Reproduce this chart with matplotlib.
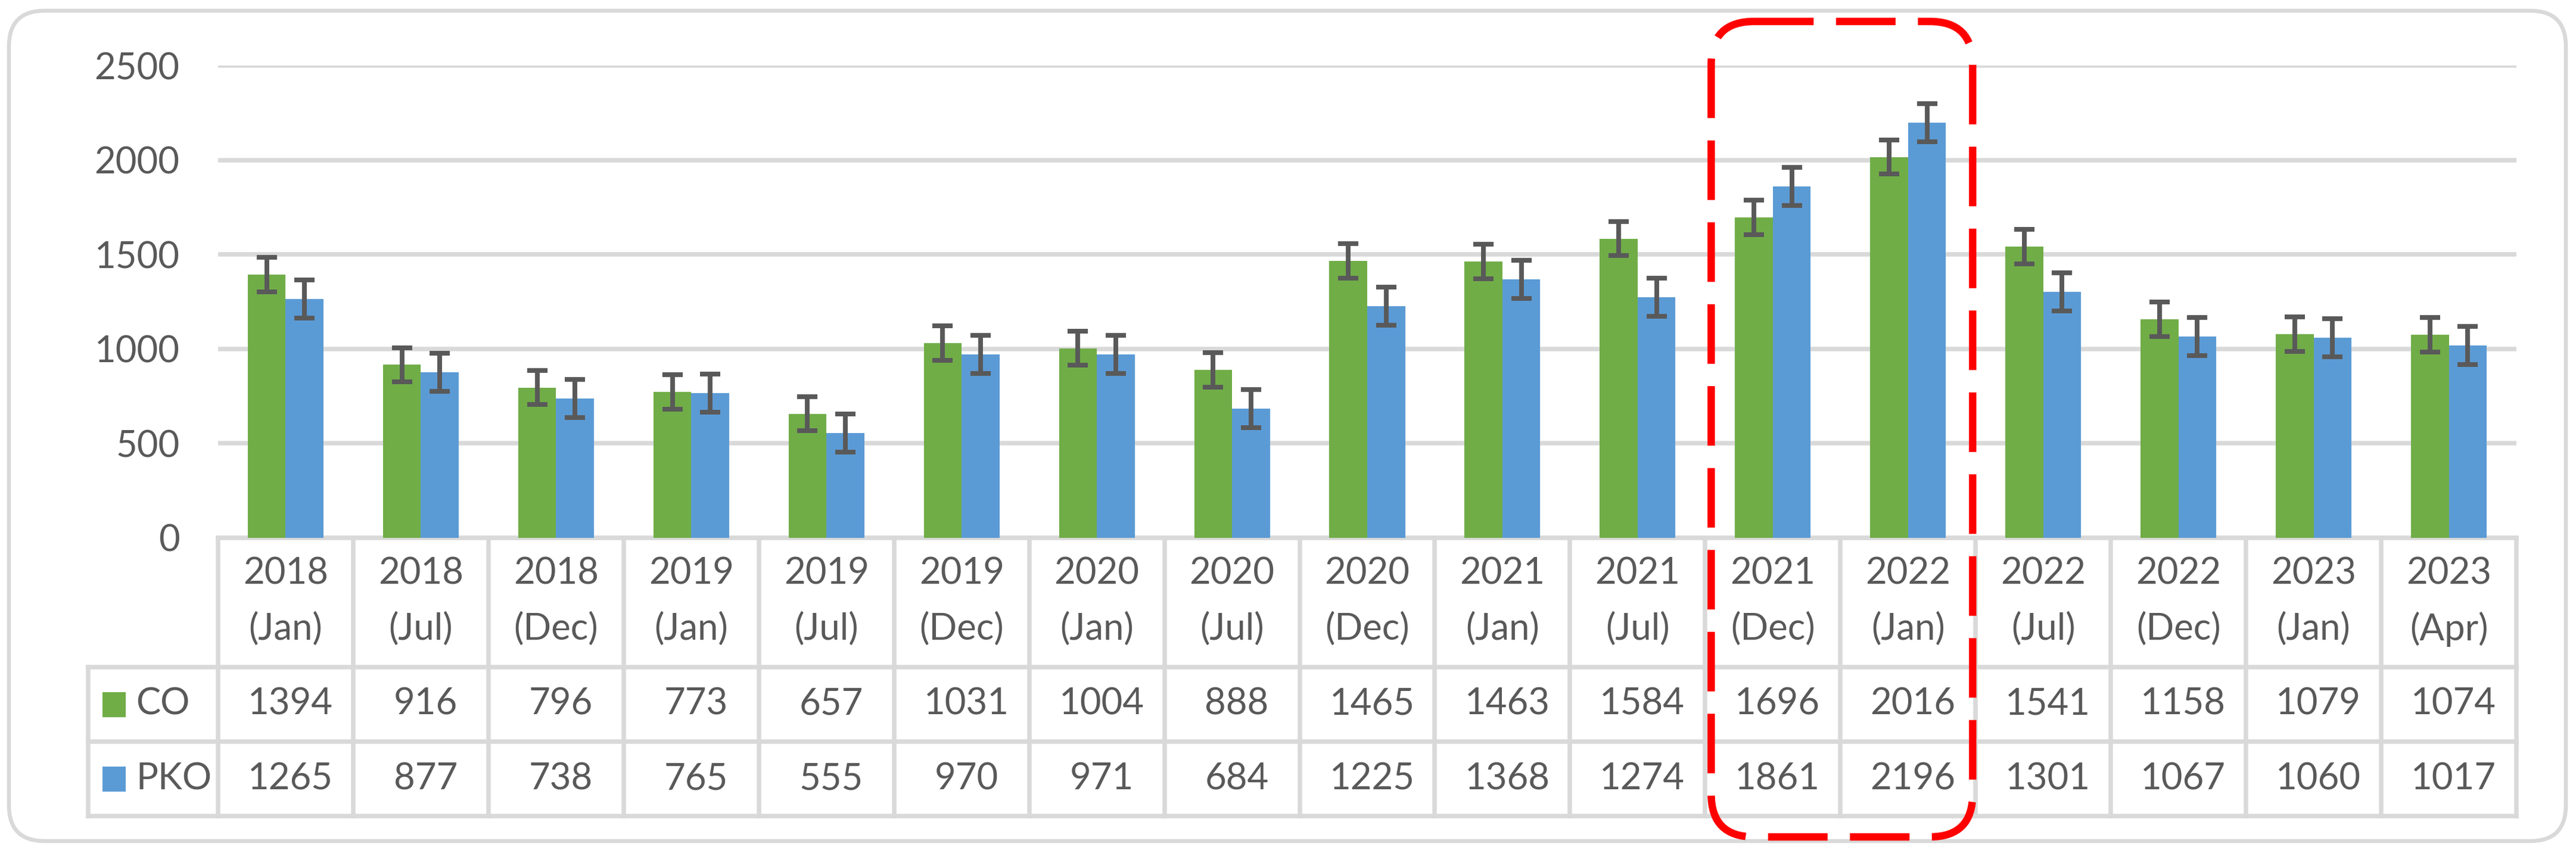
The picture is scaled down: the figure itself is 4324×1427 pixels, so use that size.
import matplotlib
matplotlib.use('Agg')
import matplotlib.pyplot as plt
from matplotlib.patches import FancyBboxPatch, Rectangle

# data
periods = ['2018 (Jan)', '2018 (Jul)', '2018 (Dec)', '2019 (Jan)', '2019 (Jul)', '2019 (Dec)',
           '2020 (Jan)', '2020 (Jul)', '2020 (Dec)', '2021 (Jan)', '2021 (Jul)', '2021 (Dec)',
           '2022 (Jan)', '2022 (Jul)', '2022 (Dec)', '2023 (Jan)', '2023 (Apr)']
co = [1394, 916, 796, 773, 657, 1031, 1004, 888, 1465, 1463, 1584, 1696, 2016, 1541, 1158, 1079, 1074]
pko = [1265, 877, 738, 765, 555, 970, 971, 684, 1225, 1368, 1274, 1861, 2196, 1301, 1067, 1060, 1017]
co_err = 91
pko_err = 101
series_names = ['CO', 'PKO']
highlight = ['2021 (Dec)', '2022 (Jan)']
yticks = [0, 500, 1000, 1500, 2000, 2500]

W, H = 4324, 1427
DPI = 300
GREEN = '#70AD47'
BLUE = '#5B9BD5'
GRID = '#D9D9D9'
TXT = '#595959'
FS = 14.8

plt.rcParams['font.family'] = ['Lato', 'DejaVu Sans']

fig = plt.figure(figsize=(W / DPI, H / DPI), dpi=DPI)
fig.patch.set_facecolor('white')

# background axes in pixel units (y down) for frame and table
bg = fig.add_axes([0, 0, 1, 1], zorder=0)
bg.set_xlim(0, W)
bg.set_ylim(H, 0)
bg.axis('off')

frame = FancyBboxPatch((15, 18), 4292, 1394, boxstyle='round,pad=0,rounding_size=60',
                       fc='white', ec=GRID, lw=1.6, zorder=0)
bg.add_patch(frame)

# bar axes
ax = fig.add_axes([366 / W, 1 - 903 / H, (4224 - 366) / W, (903 - 110) / H], zorder=1)
ax.patch.set_alpha(0)
n = len(periods)
xs = list(range(n))
bw = 0.28
ekw = dict(ecolor='#595959', elinewidth=1.9, capsize=4.1, capthick=1.9, zorder=4)
ax.bar([i - bw / 2 for i in xs], co, bw, color=GREEN, yerr=co_err, error_kw=ekw, zorder=3)
ax.bar([i + bw / 2 for i in xs], pko, bw, color=BLUE, yerr=pko_err, error_kw=ekw, zorder=3)
ax.set_xlim(-0.5, n - 0.5)
ax.set_ylim(0, 2500)
ax.set_yticks(yticks)
ax.set_xticks([])
ax.yaxis.grid(True, color=GRID, lw=1.8)
ax.set_axisbelow(True)
for s in ax.spines.values():
    s.set_visible(False)
ax.tick_params(axis='y', length=0, pad=15.5, labelsize=FS, labelcolor=TXT)


def px(xv):
    return ax.transData.transform((xv, 0))[0]


top = H - ax.transData.transform((0, 0))[1]
head_bot = top + 217
co_bot = head_bot + 125
pko_bot = co_bot + 125
leg_left = 148
edges = [px(i - 0.5) for i in range(n + 1)]

lkw = dict(color=GRID, lw=1.8, solid_capstyle='projecting', zorder=1)
bg.plot([edges[0], edges[-1]], [top, top], **lkw)
for yy in [head_bot, co_bot, pko_bot]:
    bg.plot([leg_left, edges[-1]], [yy, yy], **lkw)
for e in edges:
    bg.plot([e, e], [top, pko_bot], **lkw)
bg.plot([leg_left, leg_left], [head_bot, pko_bot], **lkw)

# header and values
for i, lab in enumerate(periods):
    year, month = lab.split(' ')
    cx = px(i)
    bg.text(cx, top + 60, year, ha='center', va='center', fontsize=FS, color=TXT)
    bg.text(cx, top + 153, month, ha='center', va='center', fontsize=FS, color=TXT)
    bg.text(cx + 8, (head_bot + co_bot) / 2, str(co[i]), ha='center', va='center',
            fontsize=FS, color=TXT)
    bg.text(cx + 8, (co_bot + pko_bot) / 2, str(pko[i]), ha='center', va='center',
            fontsize=FS, color=TXT)

# legend keys in the table
for name, col, y0, y1 in [(series_names[0], GREEN, head_bot, co_bot),
                          (series_names[1], BLUE, co_bot, pko_bot)]:
    cy = (y0 + y1) / 2
    bg.add_patch(Rectangle((172, cy - 21), 39, 42, fc=col, ec='none', zorder=2))
    bg.text(228, cy, name, ha='left', va='center', fontsize=FS, color=TXT)

# dashed highlight box, drawn in an overlay so it sits above the bars
over = fig.add_axes([0, 0, 1, 1], zorder=2)
over.set_xlim(0, W)
over.set_ylim(H, 0)
over.axis('off')
i0 = periods.index(highlight[0])
i1 = periods.index(highlight[-1])
bx0 = px(i0 - 0.5) + 10
bx1 = px(i1 + 0.5) - 5
box = FancyBboxPatch((bx0, 36), bx1 - bx0, 1405 - 36,
                     boxstyle='round,pad=0,rounding_size=72',
                     fc='none', ec='#FF0000', lw=3.0, linestyle=(0, (8, 3)), zorder=5)
over.add_patch(box)

fig.savefig('out.png', dpi=DPI, facecolor='white')
